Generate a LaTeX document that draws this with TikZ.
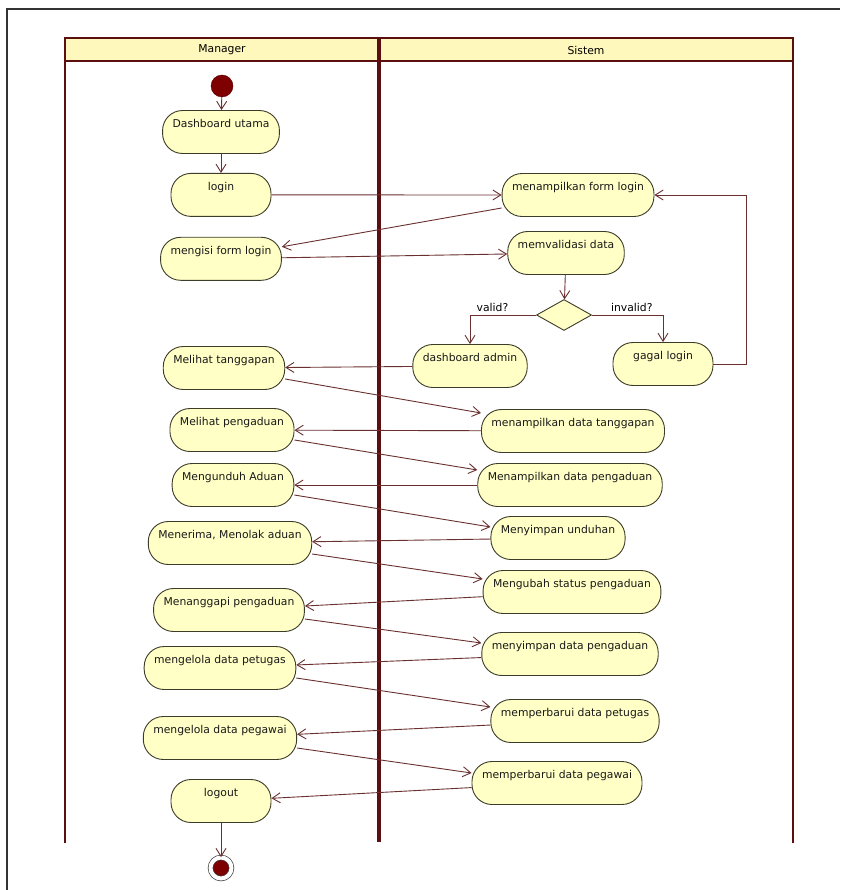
\documentclass[tikz,border=0pt]{standalone}
\usepackage{fontspec}
\setmainfont{DejaVu Sans}
\usetikzlibrary{positioning,arrows.meta,shapes.geometric}

\definecolor{lanered}{HTML}{5C0F0F}
\definecolor{headfill}{HTML}{FFF8BC}
\definecolor{actfill}{HTML}{FFFFC6}
\definecolor{actline}{HTML}{3C3C28}
\definecolor{flowline}{HTML}{6A3030}
\definecolor{dotred}{HTML}{7E0000}

\tikzset{
  action/.style={rectangle, rounded corners=20pt, draw=actline, fill=actfill, line width=0.9pt,
    minimum width=100pt, inner xsep=10pt, inner ysep=0pt, text height=17pt, text depth=26pt, text=black!90},
  decision/.style={diamond, draw=actline, fill=actfill, line width=0.9pt, minimum width=55pt, minimum height=31pt, inner sep=0pt},
  startdot/.style={circle, fill=dotred, draw=dotred!70!black, minimum size=22pt, inner sep=0pt},
  stopdot/.style={circle, fill=dotred, draw=black!75, line width=0.7pt, double=white, double distance=4pt, minimum size=21pt, inner sep=0pt},
  flow/.style={draw=flowline, line width=0.9pt, -{Straight Barb[length=8pt,width=10pt]}},
  lane/.style={draw=lanered, line width=2pt},
}

\begin{document}
\begin{tikzpicture}[x=1pt, y=-1pt, font=\fontsize{10.8}{13}\selectfont]

\useasboundingbox (0,0) rectangle (840,890);

% frame and swimlanes
\draw[line width=2pt, black!80] (7,890) -- (7,9) -- (840,9);
\draw[lane, fill=headfill] (65,38) rectangle (793,61);
\draw[lane] (65,61) -- (65,843);
\draw[lane] (793,61) -- (793,843);
\draw[lanered, line width=4pt] (379,38) -- (379,842);
\node (mgr) at (222,50) {Manager};
\node (sys) at (586,50) {Sistem};

% Manager lane
\node[startdot] (start) at (222,86) {};
\node[action] (dash) at (221,132) {Dashboard utama};
\node[action, below=19pt of dash] (login) {login};
\node[action, below=20pt of login] (isi) {mengisi form login};
\node[action] (lihatT) at (224,368) {Melihat tanggapan};
\node[action] (lihatP) at (232,430) {Melihat pengaduan};
\node[action] (unduh) at (233,485) {Mengunduh Aduan};
\node[action] (terima) at (230,543) {Menerima, Menolak aduan};
\node[action] (tanggapi) at (229,610) {Menanggapi pengaduan};
\node[action] (kelolaPt) at (220,668) {mengelola data petugas};
\node[action] (kelolaPg) at (220,738) {mengelola data pegawai};
\node[action] (logout) at (221,801) {logout};
\node[stopdot] (stop) at (221,868) {};

% Sistem lane
\node[action] (formLogin) at (578,195) {menampilkan form login};
\node[action] (validasi) at (566,253) {memvalidasi data};
\node[decision] (cek) at (564,315) {};
\node[action] (admin) at (470,366) {dashboard admin};
\node[action] (gagal) at (663,364) {gagal login};
\node[action] (tampilT) at (573,431) {menampilkan data tanggapan};
\node[action] (tampilP) at (570,485) {Menampilkan data pengaduan};
\node[action] (simpanU) at (558,538) {Menyimpan unduhan};
\node[action] (ubah) at (572,592) {Mengubah status pengaduan};
\node[action] (simpanP) at (570,654) {menyimpan data pengaduan};
\node[action] (baruPt) at (575,721) {memperbarui data petugas};
\node[action] (baruPg) at (557,783) {memperbarui data pegawai};

% flows
\draw[flow] (start) -- (dash);
\draw[flow] (dash) -- (login);
\draw[flow] (login) -- (formLogin);
\draw[flow] ([yshift=-13pt]formLogin.west) -- ([yshift=12pt]isi.east);
\draw[flow] (isi) -- (validasi);
\draw[flow] (validasi) -- (cek);
\draw[flow] (cek.west) -| (admin.north) node[pos=0.33, above] {valid?};
\draw[flow] (cek.east) -| (gagal.north) node[pos=0.28, above] {invalid?};
\draw[flow] (gagal.east) -- ++(33,0) |- (formLogin.east);
\draw[flow] (admin) -- (lihatT);
\draw[flow] ([yshift=-11pt]lihatT.east) -- ([yshift=18pt]tampilT.west);
\draw[flow] (tampilT) -- (lihatP);
\draw[flow] ([yshift=-10pt]lihatP.east) -- ([yshift=15pt]tampilP.west);
\draw[flow] (tampilP) -- (unduh);
\draw[flow] ([yshift=-10pt]unduh.east) -- ([yshift=11pt]simpanU.west);
\draw[flow] (simpanU) -- (terima);
\draw[flow] ([yshift=-11pt]terima.east) -- ([yshift=13pt]ubah.west);
\draw[flow] (ubah) -- (tanggapi);
\draw[flow] ([yshift=-9pt]tanggapi.east) -- ([yshift=11pt]simpanP.west);
\draw[flow] (simpanP) -- (kelolaPt);
\draw[flow] ([yshift=-10pt]kelolaPt.east) -- ([yshift=14pt]baruPt.west);
\draw[flow] (baruPt) -- (kelolaPg);
\draw[flow] ([yshift=-10pt]kelolaPg.east) -- ([yshift=10pt]baruPg.west);
\draw[flow] (baruPg) -- (logout);
\draw[flow] (logout) -- (stop);

\end{tikzpicture}
\end{document}
